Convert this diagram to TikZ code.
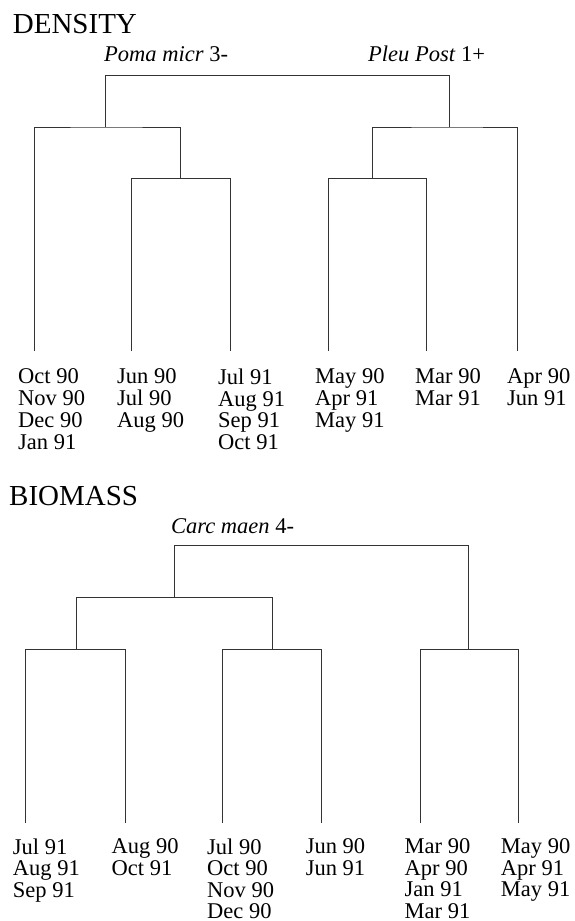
\documentclass[tikz,border=0pt]{standalone}
\usepackage{fontspec}
\setmainfont{Liberation Serif}
\begin{document}
\begin{tikzpicture}[x=1pt,y=-1pt,
  link/.style={line width=1pt, draw=black!80},
  lab/.style={anchor=north west, inner sep=0pt, align=left, font=\fontsize{22.5}{21.8}\selectfont, execute at begin node={\vphantom{Jl}}},
  labb/.style={lab, font=\fontsize{22.5}{21.5}\selectfont},
  head/.style={anchor=base west, inner sep=0pt, font=\fontsize{29}{34}\selectfont},
  spec/.style={anchor=base west, inner sep=0pt, font=\fontsize{22.5}{26}\selectfont}]
\useasboundingbox (0,0) rectangle (574,921);
% ---------- DENSITY ----------
\node[head] (hd) at (12.7,33) {DENSITY};
\node[spec] (sp1) at (104,61) {\textit{Poma micr} 3-};
\node[spec] (sp2) at (368,61) {\textit{Pleu Post} 1+};
\coordinate (a1) at (34,351);
\coordinate (a2) at (131,351);
\coordinate (a3) at (230,351);
\coordinate (a4) at (328,351);
\coordinate (a5) at (426.5,351);
\coordinate (a6) at (517.5,351);
\coordinate (k3) at (180.5,178.5);
\coordinate (k2) at (105.5,127);
\coordinate (k0) at (277.5,75.5);
\coordinate (m3) at (372,178.5);
\coordinate (m2) at (449.5,127);
\draw[link] (a2) |- (k3) -| (a3);
\draw[link] (a1) |- (k2) -| (k3);
\draw[link] (k2) |- (k0) -| (m2);
\draw[link] (m3) |- (m2) -| (a6);
\draw[link] (a4) |- (m3) -| (a5);
\node[lab] (t1) at (18,368.5) {Oct 90\\Nov 90\\Dec 90\\Jan 91};
\node[lab] (t2) at (117,368.5) {Jun 90\\Jul 90\\Aug 90};
\node[lab] (t3) at (218,368.5) {Jul 91\\Aug 91\\Sep 91\\Oct 91};
\node[lab] (t4) at (315,368.5) {May 90\\Apr 91\\May 91};
\node[lab] (t5) at (415,368.5) {Mar 90\\Mar 91};
\node[lab] (t6) at (507,368.5) {Apr 90\\Jun 91};
% ---------- BIOMASS ----------
\node[head] (hb) at (9,505) {BIOMASS};
\node[spec] (sp3) at (171,533) {\textit{Carc maen} 4-};
\coordinate (b1) at (25.5,823);
\coordinate (b2) at (125,823);
\coordinate (b3) at (222.5,823);
\coordinate (b4) at (321.5,823);
\coordinate (b5) at (420,823);
\coordinate (b6) at (518.5,823);
\coordinate (n3a) at (76,649.5);
\coordinate (n3b) at (272.5,649.5);
\coordinate (n3c) at (468,649.5);
\coordinate (n2) at (174,597.5);
\coordinate (n0) at (300,545.5);
\draw[link] (b1) |- (n3a) -| (b2);
\draw[link] (b3) |- (n3b) -| (b4);
\draw[link] (b5) |- (n3c) -| (b6);
\draw[link] (n3a) |- (n2) -| (n3b);
\draw[link] (n2) |- (n0) -| (n3c);
\node[labb] (u1) at (12.7,838.5) {Jul 91\\Aug 91\\Sep 91};
\node[labb] (u2) at (111.5,838.5) {Aug 90\\Oct 91};
\node[labb] (u3) at (207,838.5) {Jul 90\\Oct 90\\Nov 90\\Dec 90};
\node[labb] (u4) at (305.6,838.5) {Jun 90\\Jun 91};
\node[labb] (u5) at (404.5,838.5) {Mar 90\\Apr 90\\Jan 91\\Mar 91};
\node[labb] (u6) at (500.7,838.5) {May 90\\Apr 91\\May 91};
\end{tikzpicture}
\end{document}
